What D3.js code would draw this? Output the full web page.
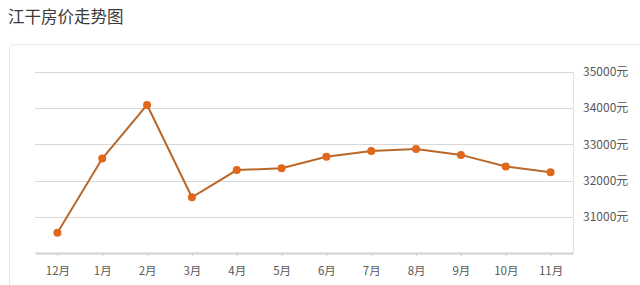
<!DOCTYPE html>
<html><head><meta charset="utf-8">
<script src="https://cdn.jsdelivr.net/npm/d3@7/dist/d3.min.js"></script>
<style>
html,body{margin:0;padding:0;background:#fff;}
svg{display:block;font-family:"Noto Sans CJK SC","Noto Sans",sans-serif;}
</style></head>
<body>
<svg id="c" width="640" height="285"></svg>
<script>
const title = "江干房价走势图";
const months = ["12月","1月","2月","3月","4月","5月","6月","7月","8月","9月","10月","11月"];
const prices = [30560, 32610, 34090, 31540, 32290, 32340, 32660, 32820, 32870, 32710, 32390, 32230];
const yTicks = [31000, 32000, 33000, 34000, 35000];
const unit = "元";

(function () {
const svg = d3.select("#c");
svg.append("text").attr("x", 8).attr("y", 23).attr("font-size", 16.5)
  .attr("fill", "#3a3a3a").text(title);

// panel border
svg.append("rect").attr("x", 9.5).attr("y", 44.5).attr("width", 700).attr("height", 300)
  .attr("rx", 5).attr("fill", "none").attr("stroke", "#e6e6e6");

const pLeft = 35, pRight = 573, pTop = 72, pBottom = 253;
const x = d3.scalePoint().domain(months).range([pLeft, pRight]).padding(0.5);
const y = d3.scaleLinear().domain([30000, 35000]).range([pBottom, pTop]);

// gridlines
svg.append("g").selectAll("line").data(yTicks).join("line")
  .attr("x1", pLeft).attr("x2", pRight)
  .attr("y1", d => Math.round(y(d)) + 0.5).attr("y2", d => Math.round(y(d)) + 0.5)
  .attr("stroke", "#d8d8d8").attr("stroke-width", 1);

// right border of plot
svg.append("line").attr("x1", pRight + 0.5).attr("x2", pRight + 0.5)
  .attr("y1", Math.round(y(35000))).attr("y2", pBottom)
  .attr("stroke", "#e2e2e2");

// y labels
svg.append("g").selectAll("text").data(yTicks).join("text")
  .attr("x", 583).attr("y", d => y(d)).attr("dy", "0.35em")
  .attr("font-size", 12).attr("fill", "#595959").text(d => d + unit);

// x axis
const xAxis = d3.axisBottom(x).tickSize(3).tickSizeOuter(0);
const gx = svg.append("g").attr("transform", `translate(0,${pBottom})`).call(xAxis);
gx.select(".domain").attr("stroke", "#d0d0d0").attr("stroke-width", 2);
gx.selectAll(".tick line").attr("stroke", "#d0d0d0");
gx.selectAll(".tick text").attr("font-size", 11.5).attr("fill", "#595959")
  .attr("font-family", "\"Noto Sans CJK SC\",sans-serif").attr("dy", "1.4em");

// line
const line = d3.line().x((d, i) => x(months[i])).y(d => y(d));
svg.append("path").datum(prices).attr("d", line)
  .attr("fill", "none").attr("stroke", "#b9682a").attr("stroke-width", 2);

svg.append("g").selectAll("circle").data(prices).join("circle")
  .attr("cx", (d, i) => x(months[i])).attr("cy", d => y(d)).attr("r", 4)
  .attr("fill", "#e0671c");
})();
</script>
</body></html>
